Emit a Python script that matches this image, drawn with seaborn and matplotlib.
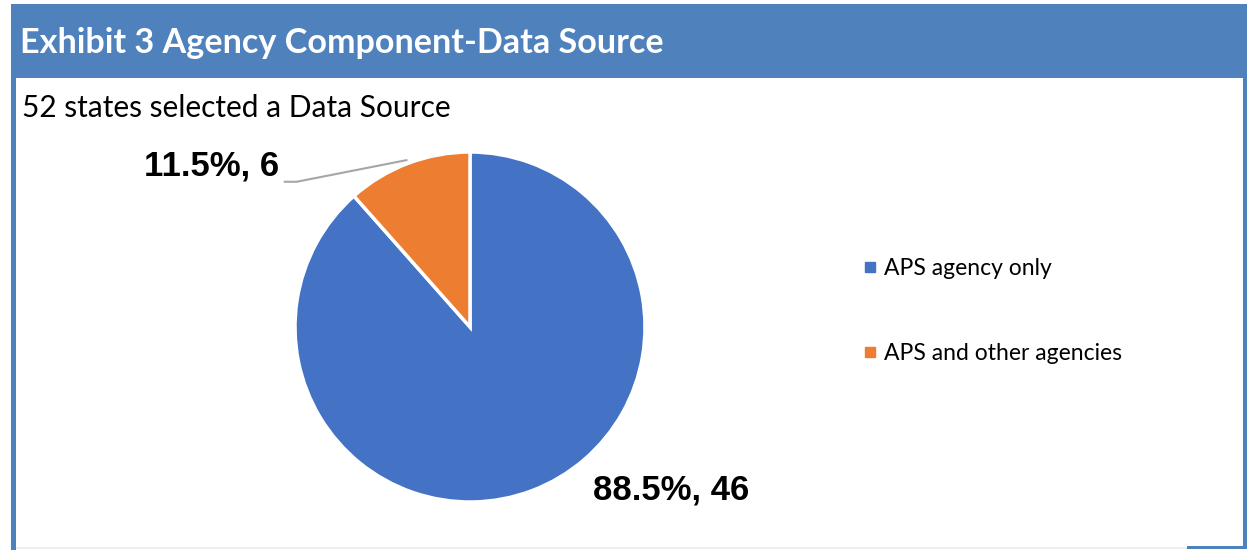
import matplotlib
matplotlib.use('Agg')
import matplotlib.pyplot as plt
import matplotlib.patches as mpatches
from matplotlib.lines import Line2D
import numpy as np
import seaborn as sns

# Data
categories = ['APS agency only', 'APS and other agencies']
counts = [46, 6]
percents = [88.5, 11.5]
title = 'Exhibit 3 Agency Component-Data Source'
subtitle = '52 states selected a Data Source'

sns.set_theme(style='white')
plt.rcParams['font.family'] = ['Liberation Sans', 'DejaVu Sans']
plt.rcParams['text.color'] = 'black'

colors = ['#4472C4', '#ED7D31']
frame_blue = '#4F81BD'

W, H = 1248, 550
fig = plt.figure(figsize=(W / 100, H / 100), dpi=100)
fig.patch.set_facecolor('white')


def fx(px):
    return px / W


def fy(py):
    return 1 - py / H


def box(x0, y0, x1, y1, color, z=0):
    fig.patches.append(mpatches.Rectangle((fx(x0), fy(y1)), fx(x1) - fx(x0), fy(y0) - fy(y1),
                                          transform=fig.transFigure, color=color, zorder=z, lw=0))


# frame: title bar and borders
box(11, 4, 1247, 78, frame_blue)
box(11, 78, 16, 550, frame_blue)
box(1243, 78, 1247, 549, frame_blue)
box(1187, 546, 1247, 549, frame_blue)
box(16, 547, 1187, 549, '#EEEEEE')

fig.text(fx(20), fy(53), title, color='white', fontsize=24.6, fontweight='bold',
         family='Lato', va='baseline', ha='left')
fig.text(fx(22), fy(117), subtitle, color='black', fontsize=21.5,
         family='Lato', va='baseline', ha='left')

# pie
ax = fig.add_axes([fx(295), fy(502), 350 / W, 350 / H])
wedges, _ = ax.pie(counts, colors=colors, startangle=90, counterclock=False,
                   wedgeprops=dict(edgecolor='white', linewidth=2.5))
ax.set_xlim(-1, 1)
ax.set_ylim(-1, 1)
ax.set_axis_off()

labels = [f'{p}%, {c}' for p, c in zip(percents, counts)]

# orange slice label with leader line
w = wedges[1]
ang = np.deg2rad((w.theta1 + w.theta2) / 2)
sx, sy = 1.02 * np.cos(ang), 1.02 * np.sin(ang)
ax.plot([sx, -0.99, -1.06], [sy, 0.83, 0.83], color='#A6A6A6', lw=1.5, clip_on=False)
ax.text(-1.09, 0.92, labels[1], ha='right', va='center', fontsize=25,
        fontweight='bold', color='black', clip_on=False)

# blue slice label
ax.text(1.15, -0.93, labels[0], ha='center', va='center', fontsize=25,
        fontweight='bold', color='black', clip_on=False)

# legend
handles = [Line2D([], [], marker='s', linestyle='none', markersize=6.5,
                  markerfacecolor=c, markeredgecolor=c) for c in colors]
leg = fig.legend(handles, categories, loc='upper left', bbox_to_anchor=(fx(851), fy(247)),
                 frameon=False, prop={'family': 'Lato', 'size': 16.5},
                 handlelength=0.7, handletextpad=0.25, labelspacing=2.78, borderpad=0)
for t in leg.get_texts():
    t.set_color('black')

fig.savefig('out.png', dpi=100)
